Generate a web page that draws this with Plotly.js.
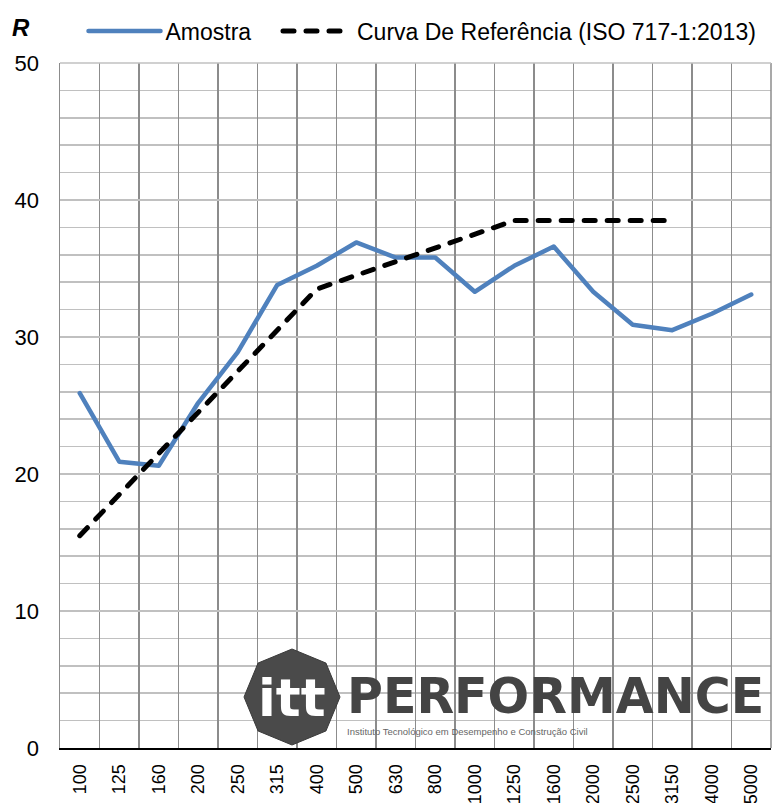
<!DOCTYPE html>
<html>
<head>
<meta charset="utf-8">
<script src="https://cdn.plot.ly/plotly-3.0.1.min.js"></script>
<style>
html,body{margin:0;padding:0;background:#fff;}
#chart{width:774px;height:803px;}
#chart .scatterlayer .js-line, #chart .legendlines path{stroke-linecap:round;stroke-linejoin:round;}
</style>
</head>
<body>
<div id="chart"></div>
<script>
const categories = ["100","125","160","200","250","315","400","500","630","800","1000","1250","1600","2000","2500","3150","4000","5000"];
const amostra = [25.9, 20.9, 20.6, 25.2, 28.9, 33.8, 35.2, 36.9, 35.8, 35.8, 33.3, 35.2, 36.6, 33.3, 30.9, 30.5, 31.7, 33.1];
const referencia = [15.5, 18.5, 21.5, 24.5, 27.5, 30.5, 33.5, 34.5, 35.5, 36.5, 37.5, 38.5, 38.5, 38.5, 38.5, 38.5, null, null];
const seriesNames = ["Amostra", "Curva De Referência (ISO 717-1:2013)"];

const W = 774, H = 803;
const mL = 60, mR = 3, mT = 63, mB = 55;
const pw = W - mL - mR, ph = H - mT - mB;
const px = x => (x - mL) / pw;
const py = y => (H - mB - y) / ph;

// logo octagon
const cx = 292, cy = 697, r = 48;
let path = "";
for (let i = 0; i < 8; i++) {
  const a = i * Math.PI / 4;
  const X = px(cx + r * Math.cos(a)), Y = py(cy + r * Math.sin(a));
  path += (i === 0 ? "M" : "L") + X + "," + Y;
}
path += "Z";

const legFont = {family: "Liberation Sans, Arial, sans-serif", size: 23, color: "#000"};

const traces = [
  {x: categories, y: amostra, name: seriesNames[0], type: "scatter", mode: "lines",
   line: {color: "#4f81bd", width: 4.5}, legend: "legend"},
  {x: categories, y: referencia, name: seriesNames[1], type: "scatter", mode: "lines",
   line: {color: "#000000", width: 5, dash: "11px,12px"}, connectgaps: false, legend: "legend2"}
];

const layout = {
  width: W, height: H,
  margin: {l: mL, r: mR, t: mT, b: mB},
  paper_bgcolor: "#fff", plot_bgcolor: "#fff",
  showlegend: true,
  legend: {orientation: "h", xref: "container", yref: "container", x: 83.5/W, y: 1 - 31/H, xanchor: "left", yanchor: "middle",
    font: legFont, itemwidth: 72, bgcolor: "rgba(0,0,0,0)"},
  legend2: {orientation: "h", xref: "container", yref: "container", x: 278/W, y: 1 - 31/H, xanchor: "left", yanchor: "middle",
    font: legFont, itemwidth: 69, bgcolor: "rgba(0,0,0,0)"},
  xaxis: {type: "category", range: [-0.5, 17.5], tickson: "boundaries", showgrid: true,
    gridcolor: "#8c8c8c", gridwidth: 1.5, tickangle: -90, ticks: "", ticklabelstandoff: 7,
    tickfont: {family: "Liberation Sans, Arial, sans-serif", size: 18, color: "#000"},
    showline: true, linecolor: "#000", linewidth: 2, mirror: false, zeroline: false, fixedrange: true},
  yaxis: {range: [0, 50], dtick: 10, tick0: 0, showgrid: true, gridcolor: "#c0c0c0", gridwidth: 1.5,
    minor: {dtick: 2, showgrid: true, gridcolor: "#c0c0c0", gridwidth: 1.5},
    ticks: "", ticklabelstandoff: 15, zeroline: false,
    tickfont: {family: "Liberation Sans, Arial, sans-serif", size: 22, color: "#000"},
    showline: true, linecolor: "#8c8c8c", linewidth: 1.5, fixedrange: true},
  shapes: [
    {type: "line", xref: "paper", yref: "paper", x0: 1, x1: 1, y0: 0, y1: 1, line: {color: "#8c8c8c", width: 1.5}},
    {type: "line", xref: "paper", yref: "paper", x0: 0, x1: 1, y0: 1, y1: 1, line: {color: "#c0c0c0", width: 1.5}},
    {type: "path", xref: "paper", yref: "paper", path: path, fillcolor: "#4a4a4a", line: {color: "#3a3a3a", width: 1}, layer: "above"}
  ],
  annotations: [
    {text: "<b><i>R</i></b>", xref: "paper", yref: "paper", x: px(10), y: py(28), xanchor: "left", yanchor: "middle",
     showarrow: false, font: {family: "Liberation Sans, Arial, sans-serif", size: 24, color: "#000"}},
    {text: "<b>itt</b>", xref: "paper", yref: "paper", x: px(cx), y: py(cy + 1), xanchor: "center", yanchor: "middle",
     showarrow: false, font: {family: "DejaVu Sans, sans-serif", size: 52, color: "#fff"}},
    {text: "<b>PERFORMANCE</b>", xref: "paper", yref: "paper", x: px(345), y: py(696), xanchor: "left", yanchor: "middle",
     showarrow: false, font: {family: "DejaVu Sans, sans-serif", size: 49, color: "#444"}},
    {text: "Instituto Tecnológico em Desempenho e Construção Civil", xref: "paper", yref: "paper", x: px(345), y: py(731), xanchor: "left", yanchor: "middle",
     showarrow: false, font: {family: "Liberation Sans Narrow, Liberation Sans, sans-serif", size: 9.5, color: "#666"}}
  ]
};

Plotly.newPlot("chart", traces, layout, {displayModeBar: false, staticPlot: true});
</script>
</body>
</html>
